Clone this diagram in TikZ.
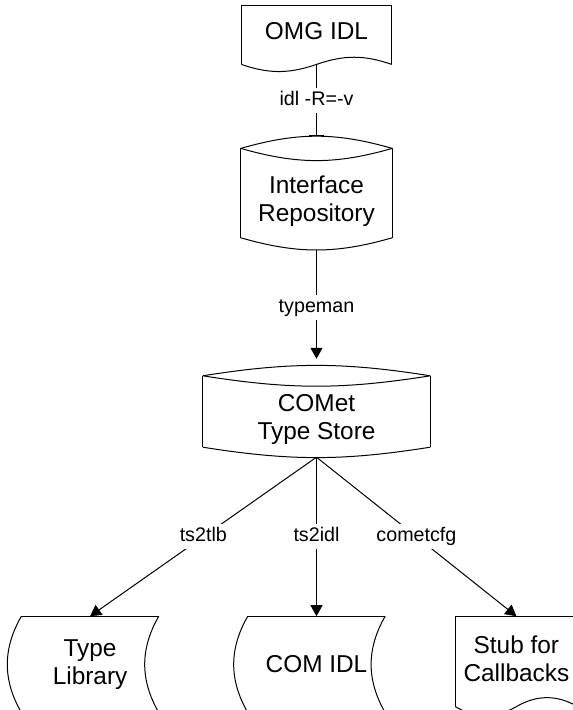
\documentclass[tikz,border=0pt]{standalone}
\usepackage{fontspec}
\setmainfont{Liberation Sans}
\usetikzlibrary{shapes,arrows.meta,positioning}

\newcommand{\boxfont}{\fontsize{24.4}{28}\selectfont}
\newcommand{\cmdfont}{\fontsize{19.7}{23}\selectfont}

\begin{document}
\begin{tikzpicture}[
    x=1pt, y=1pt,
    node distance=2cm,
    doc/.style={rectangle, align=center, font=\boxfont,
        append after command={
            (\tikzlastnode.south west) edge (\tikzlastnode.north west)
            (\tikzlastnode.north west) edge (\tikzlastnode.north east)
            (\tikzlastnode.north east) edge (\tikzlastnode.south east)
            (\tikzlastnode.south west) edge[bend right=#1] (\tikzlastnode.south)
            (\tikzlastnode.south) edge[bend left=#1] (\tikzlastnode.south east)}},
    drum/.style 2 args={rectangle, align=center, font=\boxfont, text height=61pt,
        append after command={
            ([yshift=-#2]\tikzlastnode.north west) edge[bend left=#1] ([yshift=-#2]\tikzlastnode.north east)
            ([yshift=-#2]\tikzlastnode.north west) edge[bend right=#1] ([yshift=-#2]\tikzlastnode.north east)
            ([yshift=-#2]\tikzlastnode.north west) edge ([yshift=#2]\tikzlastnode.south west)
            ([yshift=-#2]\tikzlastnode.north east) edge ([yshift=#2]\tikzlastnode.south east)
            ([yshift=#2]\tikzlastnode.south west) edge[bend right=#1] ([yshift=#2]\tikzlastnode.south east)}},
    stored/.style={rectangle, minimum width=137pt, minimum height=96pt, align=center, font=\boxfont,
        append after command={
            (\tikzlastnode.north west) edge (\tikzlastnode.north east)
            (\tikzlastnode.north west) edge[bend right=30] (\tikzlastnode.south west)
            (\tikzlastnode.north east) edge[bend right=30] (\tikzlastnode.south east)
            (\tikzlastnode.south west) edge (\tikzlastnode.south east)}},
    every edge/.style={draw, line width=1pt},
    cmd/.style={fill=white, font=\cmdfont, inner sep=3.5pt, text height=14pt, text depth=4pt},
    arrow/.style={-{Triangle[length=11pt,width=12pt]}, line width=1pt},
    tee/.style={-{Bar[width=15pt,line width=1.5pt]}, line width=1pt}
]
    \useasboundingbox (0,0) rectangle (573,710);
    \clip (0,0) rectangle (573,710);

    \node[drum={9}{10pt}, minimum width=227pt, minimum height=91pt] (store) at (316.5,298.5) {COMet\\Type Store};
    \node[drum={16}{12pt}, minimum width=151pt, minimum height=113pt, above=116pt of store] (repo) {Interface\\Repository};
    \node[doc=19, minimum width=150pt, minimum height=58pt, text depth=9pt, above=72pt of repo] (omg) {OMG IDL};

    \node[stored, below=159pt of store] (comidl) {COM IDL};
    \node[stored, left=89pt of comidl] (tlib) {Type\\Library};
    \node[doc=30, minimum width=122pt, minimum height=90pt, text depth=6pt, right=70pt of comidl, yshift=3pt] (stub) {Stub for\\Callbacks};

    \draw[tee] (omg.south) -- node[cmd] {idl -R=-v} (repo.north);
    \draw[arrow, shorten >=7pt] (repo.south) -- node[cmd] {typeman} (store.north);

    \draw[arrow] (store.south) -- node[cmd] {ts2tlb} (tlib.north);
    \draw[arrow] (store.south) -- node[cmd] {ts2idl} (comidl.north);
    \draw[arrow] (store.south) -- node[cmd] {cometcfg} (stub.north);
\end{tikzpicture}
\end{document}
